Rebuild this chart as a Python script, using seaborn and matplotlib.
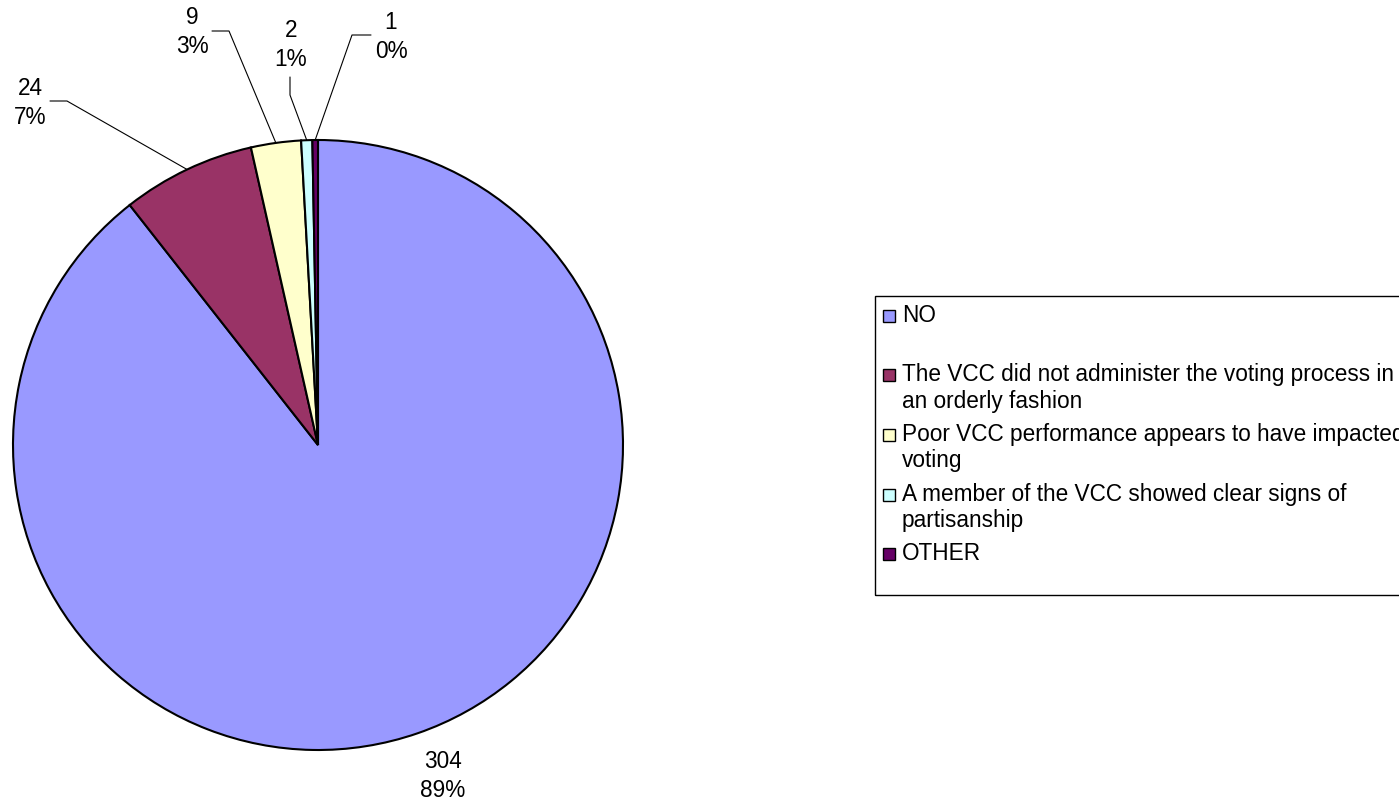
import matplotlib
matplotlib.use("Agg")
import matplotlib.pyplot as plt
from matplotlib.patches import Rectangle
import numpy as np
import seaborn as sns

sns.set_style("white")
plt.rcParams['font.family'] = ['Liberation Sans', 'DejaVu Sans']
plt.rcParams['text.color'] = 'black'

categories = ["NO",
              "The VCC did not administer the voting process in\nan orderly fashion",
              "Poor VCC performance appears to have impacted\nvoting",
              "A member of the VCC showed clear signs of\npartisanship",
              "OTHER"]
counts = [304, 24, 9, 2, 1]
pct_labels = ["89%", "7%", "3%", "1%", "0%"]
colors = ["#9999FF", "#993366", "#FFFFCC", "#CCFFFF", "#660066"]

W, H = 1399, 800
FS = 16.3
fig = plt.figure(figsize=(W / 100, H / 100), dpi=100)

# pie: centre (318, 445) px, radius 305 px
cx, cy, R = 318, 445, 305
ax = fig.add_axes([(cx - R) / W, (H - cy - R) / H, 2 * R / W, 2 * R / H])
wedges, _ = ax.pie(counts, colors=colors, startangle=90, counterclock=False,
                   radius=1, wedgeprops=dict(edgecolor="black", linewidth=1.5))
ax.set_xlim(-1, 1)
ax.set_ylim(-1, 1)
ax.set_aspect("equal")
ax.axis("off")


def to_data(px, py):
    return (px - cx) / R, (cy - py) / R


# label placement (pixel positions of text block centres and leader elbows)
label_pos = [(443, 776), (30, 103), (192, 32), (291, 45), (391, 37)]
leaders = [None,
           [(50, 101), (67, 101)],
           [(212, 31), (229, 31)],
           [(290, 77), (290, 95)],
           [(371, 35), (352, 35)]]

for i, w in enumerate(wedges):
    tx, ty = to_data(*label_pos[i])
    ax.text(tx, ty, f"{counts[i]}\n{pct_labels[i]}", ha="center", va="center",
            fontsize=FS, linespacing=1.3, clip_on=False)
    if leaders[i] is not None:
        ang = np.deg2rad((w.theta1 + w.theta2) / 2)
        pts = [to_data(*p) for p in leaders[i]] + [(np.cos(ang), np.sin(ang))]
        xs, ys = zip(*pts)
        ax.plot(xs, ys, color="black", lw=0.8, clip_on=False)

# legend box (extends past the right edge, as in the reference)
fig.add_artist(Rectangle((875 / W, 1 - 595 / H), (1430 - 875) / W, (595 - 296) / H,
                         transform=fig.transFigure, fill=False,
                         edgecolor="black", linewidth=1))
for i, lab in enumerate(categories):
    yc = 316 + 59.5 * i
    fig.add_artist(Rectangle((883 / W, 1 - (yc + 6) / H), 12 / W, 12 / H,
                             transform=fig.transFigure, facecolor=colors[i],
                             edgecolor="black", linewidth=1))
    fig.text(902 / W, 1 - (yc - 12) / H, lab, ha="left", va="top",
             fontsize=FS, linespacing=1.17)

fig.savefig("out.png", dpi=100)
